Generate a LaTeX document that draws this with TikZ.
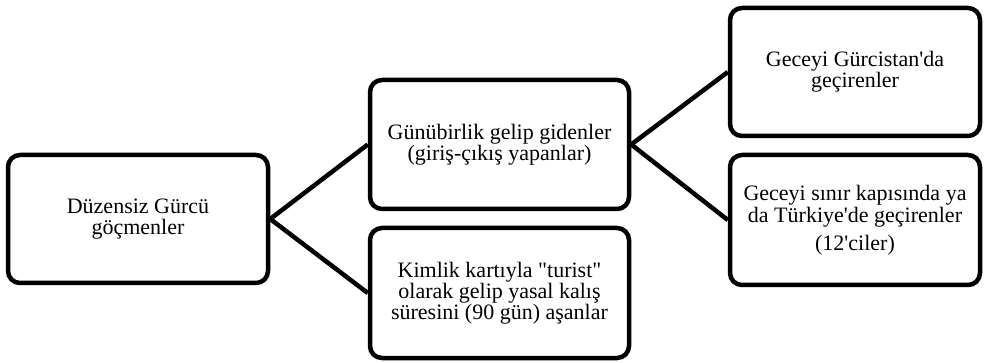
\documentclass[tikz,border=0pt]{standalone}
\usepackage{fontspec}
\setmainfont{Liberation Serif}[Ligatures=TeXOff]
\begin{document}
\begin{tikzpicture}[x=1pt,y=-1pt,
  box/.style={draw=black, line width=4.5pt, rounded corners=12pt, fill=white,
    inner sep=0pt, align=center, font=\fontsize{22}{21}\selectfont},
  conn/.style={draw=black, line width=4.5pt}]
\useasboundingbox (0,0) rectangle (985,363);
\node[box, minimum width=260pt, minimum height=128pt] (b1) at (138,219) {Düzensiz Gürcü\\göçmenler};
\node[box, minimum width=259pt, minimum height=129pt] (b2) at (499.5,144.5) {Günübirlik gelip gidenler\\(giriş-çıkış yapanlar)};
\node[box, minimum width=259pt, minimum height=130pt] (b3) at (499.5,293) {Kimlik kartıyla "turist"\\olarak gelip yasal kalış\\süresini (90 gün) aşanlar};
\node[box, minimum width=250pt, minimum height=128pt] (b4) at (855,72) {Geceyi Gürcistan'da\\geçirenler};
\node[box, minimum width=250pt, minimum height=130pt] (b5) at (855,220) {Geceyi sınır kapısında ya\\[1pt]da Türkiye'de geçirenler\\[7pt](12'ciler)};
\draw[conn] (b1.east) -- (b2.west);
\draw[conn] (b1.east) -- (b3.west);
\draw[conn] (b2.east) -- (b4.west);
\draw[conn] (b2.east) -- (b5.west);
\end{tikzpicture}
\end{document}
